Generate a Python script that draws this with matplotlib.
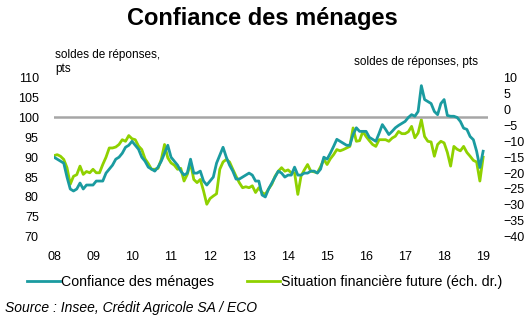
import numpy as np
import matplotlib
matplotlib.use('Agg')
import matplotlib.pyplot as plt
from matplotlib.lines import Line2D

plt.rcParams['font.family'] = ['Liberation Sans', 'DejaVu Sans']

# mensuel, janvier 2008 -> janvier 2019
confiance = [90, 89.5, 89, 88.5, 85, 82, 81.5, 82, 83.5, 82, 83, 83,
             83, 84, 84, 84, 86, 87, 88, 89.5, 90, 91, 92.5, 93,
             94, 93, 92, 90, 89, 87.5, 87, 86.5, 87.5, 89, 91, 93,
             90, 89, 88, 86.5, 85.5, 86, 89.5, 86, 86, 86.5, 84, 83,
             84, 85, 88.5, 90.5, 92.5, 90, 88, 86.5, 84.5, 84.5, 85, 85.5,
             86, 85.5, 84, 84, 80.5, 80, 82, 83.5, 85, 86.5, 86, 85,
             85.5, 85.5, 87.5, 85.5, 85.5, 86, 86, 86.5, 86.5, 86, 87, 90,
             89.5, 91, 92.7, 94.5, 94, 93.5, 93, 93, 95.7, 97.4, 96.5, 96.5,
             96.5, 95, 94.5, 94, 96, 98.2, 97, 95.7, 96.5, 97.4, 98, 98.5,
             99, 100, 100.7, 100.3, 101.5, 108, 104.5, 104, 103.5, 101.5, 100.7, 103.5,
             104.5, 100.5, 100.3, 100.3, 100, 99, 97.3, 97, 95.2, 94.4, 91.5, 87.4,
             91.5]

situation = [-14.5, -14.2, -14.7, -15.7, -18.3, -23.5, -21, -20.5, -17.8, -20.4, -19.5, -19.9,
             -18.8, -19.9, -19.9, -17.3, -15, -12.1, -12.1, -11.8, -11, -9.5, -10, -8.2,
             -9.2, -9.5, -11.5, -12.6, -15.5, -17, -18.8, -18.8, -18.5, -15.7, -11, -15.2,
             -16.8, -17.5, -18.8, -18.5, -22.5, -20.4, -16.8, -22, -23, -22, -25.6, -29.8,
             -28, -27.2, -26.5, -18.8, -16.5, -15.7, -16.5, -18.8, -21, -23, -24.6, -24.3,
             -24.6, -24, -26.1, -24.6, -26.1, -26.7, -25, -23.5, -21, -19.4, -18.3, -19.4,
             -19, -19.9, -19.9, -26.7, -20.9, -19, -17.3, -19.4, -19.6, -19.9, -18, -15.7,
             -17.3, -15.5, -14.2, -12.6, -13, -12.6, -12.1, -11.6, -5.8, -10, -9.8, -6.9,
             -8.5, -9.8, -11, -11.6, -9.5, -9.5, -9.5, -10, -9, -8.4, -6.9, -7.6,
             -7.6, -7, -5.3, -8.9, -7.4, -3.2, -8.5, -10, -10.2, -14.7, -11, -10,
             -10.5, -13.5, -17.8, -11.6, -12.5, -13, -11.6, -13.5, -14.7, -16, -16.5, -22.5,
             -15]

annees = ['08', '09', '10', '11', '12', '13', '14', '15', '16', '17', '18', '19']

teal = '#1A9BA0'
vert = '#8FD100'

fig = plt.figure(figsize=(5.25, 3.28), dpi=100)
ax = fig.add_axes([54/525, 1-236.7/328, (488-54)/525, (236.7-77.7)/328])
ax2 = ax.twinx()

mois = np.arange(len(confiance))
ax.axhline(100, color='#A6A6A6', lw=1.8, zorder=1)
ax.plot(mois, confiance, color=teal, lw=2, zorder=3)
ax2.plot(mois, situation, color=vert, lw=2, zorder=2)
ax.set_zorder(ax2.get_zorder()+1)
ax.patch.set_visible(False)

ax.set_xlim(0, 133.5)
ax.set_ylim(70, 110)
ax2.set_ylim(-40, 10)
ax.set_yticks(np.arange(70, 111, 5))
ax2.set_yticks(np.arange(-40, 11, 5))
ax.set_xticks(np.arange(0, 12*len(annees), 12))
ax.set_xticklabels(annees)

for a in (ax, ax2):
    for s in a.spines.values():
        s.set_visible(False)
    a.tick_params(length=0, labelsize=9)
ax.tick_params(axis='y', pad=11)
ax2.tick_params(axis='y', pad=11)
ax.tick_params(axis='x', pad=10)

fig.text(0.5, 1-18/328, 'Confiance des ménages', ha='center', va='center',
         fontsize=17, fontweight='bold')
fig.text(55/525, 1-62/328, 'soldes de réponses,\npts', ha='left', va='center',
         fontsize=8.5, linespacing=1.3)
fig.text(478/525, 1-62/328, 'soldes de réponses, pts', ha='right', va='center',
         fontsize=8.5)

handles = [Line2D([], [], color=teal, lw=2), Line2D([], [], color=vert, lw=2)]
fig.legend(handles, ['Confiance des ménages', 'Situation financière future (éch. dr.)'],
           loc='center left', bbox_to_anchor=(27/525, 1-282/328), ncol=2,
           frameon=False, fontsize=10.2, handlelength=2.35, handletextpad=0.05,
           columnspacing=2.3, borderpad=0, borderaxespad=0)

fig.text(5/525, 1-308/328, 'Source : Insee, Crédit Agricole SA / ECO', ha='left', va='center',
         fontsize=10, style='italic')

fig.savefig('out.png', dpi=100)
